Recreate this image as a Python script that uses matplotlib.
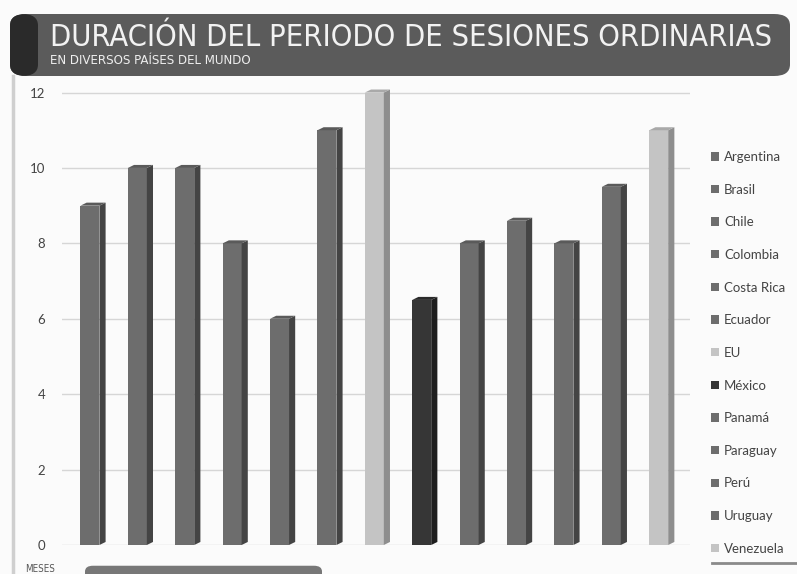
import matplotlib.pyplot as plt
from matplotlib.patches import FancyBboxPatch, Patch
from matplotlib import font_manager

# data
paises = ['Argentina', 'Brasil', 'Chile', 'Colombia', 'Costa Rica', 'Ecuador', 'EU',
          'México', 'Panamá', 'Paraguay', 'Perú', 'Uruguay', 'Venezuela']
meses = [9, 10, 10, 8, 6, 11, 12, 6.5, 8, 8.6, 8, 9.5, 11]
yticks = [0, 2, 4, 6, 8, 10, 12]

# colours (front, side, top) per country
gris = ('#6d6d6d', '#444444', '#5a5a5a')
claro = ('#c4c4c4', '#8e8e8e', '#a9a9a9')
oscuro = ('#363636', '#1e1e1e', '#2a2a2a')
colores = [gris, gris, gris, gris, gris, gris, claro, oscuro, gris, gris, gris, gris, claro]

names = {f.name for f in font_manager.fontManager.ttflist}
narrow = 'Liberation Sans Narrow' if 'Liberation Sans Narrow' in names else 'DejaVu Sans'
plt.rcParams['font.family'] = ['Lato', 'DejaVu Sans']

fig = plt.figure(figsize=(7.97, 5.74), dpi=100)
fig.patch.set_facecolor('#fbfbfb')
W, H = 797, 574

# title banner
banner = FancyBboxPatch((10 / W, 1 - 76 / H), 780 / W, 62 / H,
                        boxstyle='round,pad=0,rounding_size=0.02',
                        transform=fig.transFigure, facecolor='#5b5b5b', edgecolor='none')
fig.add_artist(banner)
dark = FancyBboxPatch((10 / W, 1 - 76 / H), 28 / W, 62 / H,
                      boxstyle='round,pad=0,rounding_size=0.02',
                      transform=fig.transFigure, facecolor='#2a2a2a', edgecolor='none')
fig.add_artist(dark)
# left page line
fig.add_artist(plt.Line2D([13 / W, 13 / W], [0, 1 - 76 / H], transform=fig.transFigure,
                          color='#cfcfcf', lw=2.5))

t1 = fig.text(50 / W, 1 - 46 / H, 'DURACIÓN DEL PERIODO DE SESIONES ORDINARIAS',
              color='#f2f2f2', fontsize=22, family=[narrow, 'DejaVu Sans'],
              fontstretch='condensed', va='baseline')
t2 = fig.text(50 / W, 1 - 64 / H, 'EN DIVERSOS PAÍSES DEL MUNDO',
              color='#eeeeee', fontsize=11, family=[narrow, 'DejaVu Sans'],
              fontstretch='condensed', va='baseline')

# fit title widths
fig.canvas.draw()
r = fig.canvas.get_renderer()
for t, target in ((t1, 720), (t2, 200)):
    w = t.get_window_extent(r).width
    t.set_fontsize(t.get_fontsize() * target / w)

ax = fig.add_axes([62 / W, 29 / H, 628 / W, 460 / H])
ax.set_facecolor('none')
ax.set_xlim(-0.59, 12.66)
ax.set_ylim(0, 12.2)

w = 0.4
dx, dy = 0.13, 0.08
for i, (p, v, c) in enumerate(zip(paises, meses, colores)):
    ax.bar(i, v, width=w, color=c[0], edgecolor='none', zorder=3, label=p)
    xr = i + w / 2
    xl = i - w / 2
    ax.fill([xr, xr + dx, xr + dx, xr], [0, dy, v + dy, v], color=c[1], lw=0, zorder=3)
    ax.fill([xl, xl + dx, xr + dx, xr], [v, v + dy, v + dy, v], color=c[2], lw=0, zorder=3)

ax.set_yticks(yticks)
ax.set_xticks([])
ax.tick_params(axis='y', length=0, pad=12, labelsize=9.5, labelcolor='#444444')
for s in ax.spines.values():
    s.set_visible(False)
ax.grid(axis='y', color='#d6d6d6', lw=1, zorder=0)

handles = [Patch(facecolor=c[0], edgecolor='none', label=p) for p, c in zip(paises, colores)]
leg = fig.legend(handles=handles, loc='upper left', bbox_to_anchor=(711 / W, 1 - 151 / H),
                 frameon=False, fontsize=9.5, handlelength=0.6, handleheight=0.6,
                 handletextpad=0.4, labelspacing=1.565, borderpad=0, borderaxespad=0)
for t in leg.get_texts():
    t.set_color('#444444')

fig.add_artist(plt.Line2D([712 / W, 1], [1 - 563 / H] * 2, transform=fig.transFigure,
                          color='#8a8a8a', lw=2))
fig.text(40 / W, 1 - 572 / H, 'MESES', fontsize=7, color='#555555', ha='center',
         va='baseline', family=[narrow, 'DejaVu Sans'], fontstretch='condensed')
bottom_bar = FancyBboxPatch((85 / W, -0.01), 237 / W, 14 / H,
                            boxstyle='round,pad=0,rounding_size=0.01',
                            transform=fig.transFigure, facecolor='#777777', edgecolor='none')
fig.add_artist(bottom_bar)

fig.savefig('out.png', dpi=100, facecolor=fig.get_facecolor())
